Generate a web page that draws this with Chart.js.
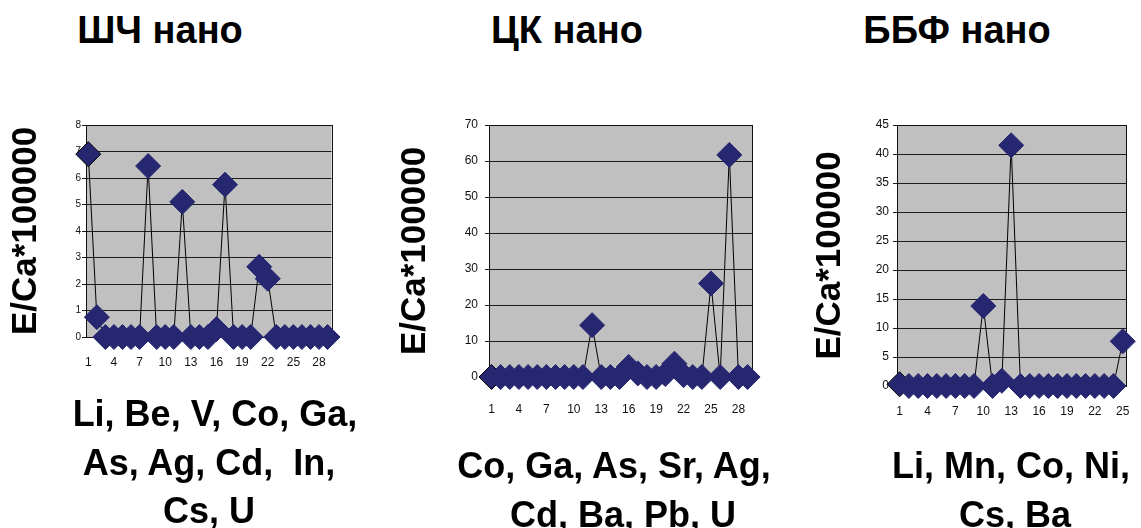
<!DOCTYPE html>
<html>
<head>
<meta charset="utf-8">
<script src="https://cdn.jsdelivr.net/npm/chart.js@4/dist/chart.umd.min.js"></script>
<style>
  html, body { margin: 0; padding: 0; background: #fff; }
  body { width: 1141px; height: 528px; position: relative; overflow: hidden;
         font-family: 'Liberation Sans', Arial, sans-serif; }
  canvas { position: absolute; }
  .txt { position: absolute; width: 400px; text-align: center; font-weight: bold;
         font-size: 36px; line-height: 36px; white-space: pre; color: #000; }
  .ttl { font-size: 38px; }
</style>
</head>
<body>
<div class="txt ttl" style="left:-40px;top:12px">ШЧ нано</div>
<div class="txt ttl" style="left:367px;top:12px">ЦК нано</div>
<div class="txt ttl" style="left:757px;top:12px">ББФ нано</div>

<canvas id="chartA" width="345" height="280" style="left:0;top:100px"></canvas>
<canvas id="chartB" width="390" height="320" style="left:380px;top:100px"></canvas>
<canvas id="chartC" width="351" height="320" style="left:790px;top:100px"></canvas>

<div class="txt" style="left:15px;top:396px">Li, Be, V, Co, Ga,</div>
<div class="txt" style="left:9px;top:445px">As, Ag, Cd,  In,</div>
<div class="txt" style="left:9px;top:493px">Cs, U</div>

<div class="txt" style="left:414px;top:448px">Co, Ga, As, Sr, Ag,</div>
<div class="txt" style="left:423px;top:497px">Cd, Ba, Pb, U</div>

<div class="txt" style="left:811px;top:448px">Li, Mn, Co, Ni,</div>
<div class="txt" style="left:815px;top:497px">Cs, Ba</div>

<script>
// ШЧ нано: element ratios, samples 1..29
const valuesA = [6.9, 0.75, 0, 0, 0, 0, 0, 6.45, 0, 0, 0, 5.1, 0, 0, 0, 0.3, 5.75,
                 0, 0, 0, 2.65, 2.2, 0, 0, 0, 0, 0, 0, 0];
const ticksA = [1, 4, 7, 10, 13, 16, 19, 22, 25, 28];

// ЦК нано: samples 1..29
const valuesB = [0, 0, 0, 0, 0, 0, 0, 0, 0, 0, 0, 14.4, 0, 0, 0, 2.8, 1.0, 0, 0, 0.8,
                 3.7, 0.5, 0, 0, 26.0, 0, 61.7, 0, 0];
const ticksB = [1, 4, 7, 10, 13, 16, 19, 22, 25, 28];

// ББФ нано: samples 1..25
const valuesC = [0.3, 0, 0, 0, 0, 0, 0, 0, 0, 13.8, 0, 0.9, 41.5, 0, 0, 0, 0, 0, 0,
                 0, 0, 0, 0, 0, 7.7];
const ticksC = [1, 4, 7, 10, 13, 16, 19, 22, 25];

const NAVY = '#272771';
const FONT = "'Liberation Sans', Arial, sans-serif";
Chart.defaults.font.family = FONT;

// gray plot background plus a dark frame round the plot area
const plotFrame = {
  id: 'plotFrame',
  beforeDraw(chart) {
    const { ctx, chartArea: a } = chart;
    ctx.save();
    ctx.fillStyle = '#c0c0c0';
    ctx.fillRect(a.left, a.top, a.right - a.left, a.bottom - a.top);
    ctx.restore();
  },
  beforeDatasetsDraw(chart) {
    const { ctx, chartArea: a } = chart;
    ctx.save();
    ctx.strokeStyle = '#111';
    ctx.lineWidth = 1;
    const l = Math.round(a.left) + 0.5, t = Math.round(a.top) + 0.5;
    const r = Math.round(a.right) + 0.5, b = Math.round(a.bottom) + 0.5;
    ctx.strokeRect(l, t, r - l, b - t);
    ctx.restore();
  }
};

function drawPanel(id, values, xTicks, cfg) {
  const points = values.map((v, i) => ({ x: i + 1, y: v }));
  return new Chart(document.getElementById(id), {
    type: 'line',
    data: {
      datasets: [{
        data: points,
        borderColor: '#000',
        borderWidth: 1,
        tension: 0,
        pointStyle: 'rectRot',
        pointRadius: 12.5,
        pointBorderWidth: 1,
        pointBackgroundColor: NAVY,
        pointBorderColor: (c) => (c.dataIndex === 0 ? '#000' : NAVY),
        clip: false
      }]
    },
    options: {
      responsive: false,
      animation: false,
      events: [],
      layout: { padding: { top: cfg.padTop, right: cfg.padRight, left: 0, bottom: 0 } },
      plugins: { legend: { display: false }, tooltip: { enabled: false } },
      scales: {
        x: {
          type: 'linear',
          min: cfg.xMin,
          max: cfg.xMax,
          afterBuildTicks: (s) => { s.ticks = xTicks.map((v) => ({ value: v })); },
          afterFit: (s) => {
            s.height = cfg.xHeight;
            s.paddingLeft = 0;
            s.paddingRight = 0;
          },
          grid: { display: false, drawTicks: false },
          border: { display: false },
          ticks: { autoSkip: false, maxRotation: 0, color: '#111',
                   font: { size: cfg.xFont }, padding: cfg.xPad }
        },
        y: {
          min: 0,
          max: cfg.yMax,
          afterFit: (s) => { s.width = cfg.yWidth; },
          grid: { color: '#1c1c1c', lineWidth: 1, drawTicks: true, tickLength: 4 },
          border: { display: true, color: '#000', width: 1 },
          ticks: { stepSize: cfg.yStep, color: '#111', font: { size: cfg.yFont },
                   padding: cfg.yPad },
          title: {
            display: true,
            text: 'E/Ca*100000',
            color: '#000',
            font: { size: 35, weight: 'bold', lineHeight: 1 },
            padding: { top: cfg.titlePad, bottom: 0 }
          }
        }
      }
    },
    plugins: [plotFrame]
  });
}

drawPanel('chartA', valuesA, ticksA, {
  padTop: 25, padRight: 11, xMin: 0.73, xMax: 29.46, xHeight: 43, xFont: 12, xPad: 18,
  yMax: 8, yStep: 1, yWidth: 86, yFont: 10, yPad: 1, titlePad: 9
});
drawPanel('chartB', valuesB, ticksB, {
  padTop: 25, padRight: 18, xMin: 0.73, xMax: 29.48, xHeight: 43, xFont: 12, xPad: 25,
  yMax: 70, yStep: 10, yWidth: 109, yFont: 12, yPad: 7, titlePad: 18
});
drawPanel('chartC', valuesC, ticksC, {
  padTop: 25, padRight: 15, xMin: 0.72, xMax: 25.35, xHeight: 34, xFont: 12, xPad: 18,
  yMax: 45, yStep: 5, yWidth: 107, yFont: 12, yPad: 4, titlePad: 23
});
</script>
</body>
</html>
